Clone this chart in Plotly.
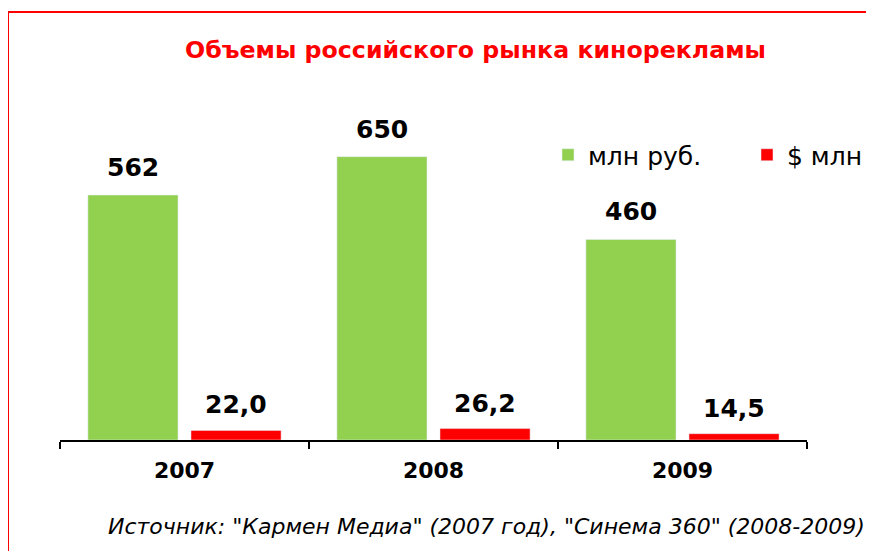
import plotly.graph_objects as go

years = ["2007", "2008", "2009"]
rub_values = [562, 650, 460]
usd_values = [22.0, 26.2, 14.5]
series_names = ["млн руб.", "$ млн"]
title_text = "Объемы российского рынка кинорекламы"
source_text = 'Источник: "Кармен Медиа" (2007 год), "Синема 360" (2008-2009)'

# page body offset of the browser (default 8px margin)
OFF = 8
W, H = 874, 551
# target plot area in screenshot pixels: x 60..807, y ..440
ML, MT = 60 - OFF, 100 - OFF
PW, PH = 747, 340
MR = W - ML - PW
MB = H - MT - PH
YMAX = 780

def px_x(px):
    return (px - OFF - ML) / PW

def px_y(py):
    return (MT + PH - (py - OFF)) / PH

GREEN = "#92D050"
RED = "#FF0000"
FONT = "DejaVu Sans"

bargap = 0.172
bargroupgap = 0.126
slot = (1 - bargap) / 2

fig = go.Figure()
fig.add_bar(x=years, y=rub_values, name=series_names[0], marker_color=GREEN)
fig.add_bar(x=years, y=usd_values, name=series_names[1], marker_color=RED)

def fmt(v, dec):
    return f"{v:.{dec}f}".replace(".", ",")

annotations = []
for i, (r, u) in enumerate(zip(rub_values, usd_values)):
    annotations.append(dict(x=i - slot / 2, y=r, xref="x", yref="y", text=fmt(r, 0),
                            showarrow=False, yanchor="bottom", yshift=11,
                            font=dict(family=FONT, size=25, color="black", weight="bold")))
    annotations.append(dict(x=i + slot / 2, y=u, xref="x", yref="y", text=fmt(u, 1),
                            showarrow=False, yanchor="bottom", yshift=9,
                            font=dict(family=FONT, size=25, color="black", weight="bold")))

annotations.append(dict(x=px_x(475), y=px_y(50), xref="paper", yref="paper",
                        text=title_text, showarrow=False, xanchor="center", yanchor="middle",
                        font=dict(family=FONT, size=23.7, color=RED, weight="bold")))
annotations.append(dict(x=px_x(106), y=px_y(526), xref="paper", yref="paper",
                        text=source_text, showarrow=False, xanchor="left", yanchor="middle",
                        font=dict(family=FONT, size=22, color="black", style="italic")))

border = dict(color=RED, width=2)
fig.update_layout(
    width=W, height=H,
    margin=dict(l=ML, r=MR, t=MT, b=MB, autoexpand=False),
    paper_bgcolor="white", plot_bgcolor="white",
    barmode="group", bargap=bargap, bargroupgap=bargroupgap,
    separators=", ",
    showlegend=True,
    legend=dict(orientation="h", x=px_x(548), y=px_y(155), xanchor="left", yanchor="middle",
                font=dict(family=FONT, size=25, color="black"),
                entrywidth=154, bgcolor="rgba(0,0,0,0)"),
    xaxis=dict(type="category", range=[-0.5, 2.5], showline=True, linecolor="black", linewidth=1.5,
               ticks="outside", tickson="boundaries", ticklen=7, tickcolor="black", tickwidth=1.5,
               ticklabelstandoff=10,
               tickfont=dict(family=FONT, size=22, color="black", weight="bold"),
               showgrid=False, zeroline=False),
    yaxis=dict(range=[0, YMAX], visible=False, showgrid=False, zeroline=False),
    annotations=annotations,
    shapes=[
        dict(type="line", xref="paper", yref="paper",
             x0=px_x(8), y0=px_y(12), x1=px_x(1000), y1=px_y(12), line=border, layer="below"),
        dict(type="line", xref="paper", yref="paper",
             x0=px_x(8), y0=px_y(12), x1=px_x(8), y1=px_y(700), line=border, layer="below"),
    ],
)

fig.write_html("out.html")
